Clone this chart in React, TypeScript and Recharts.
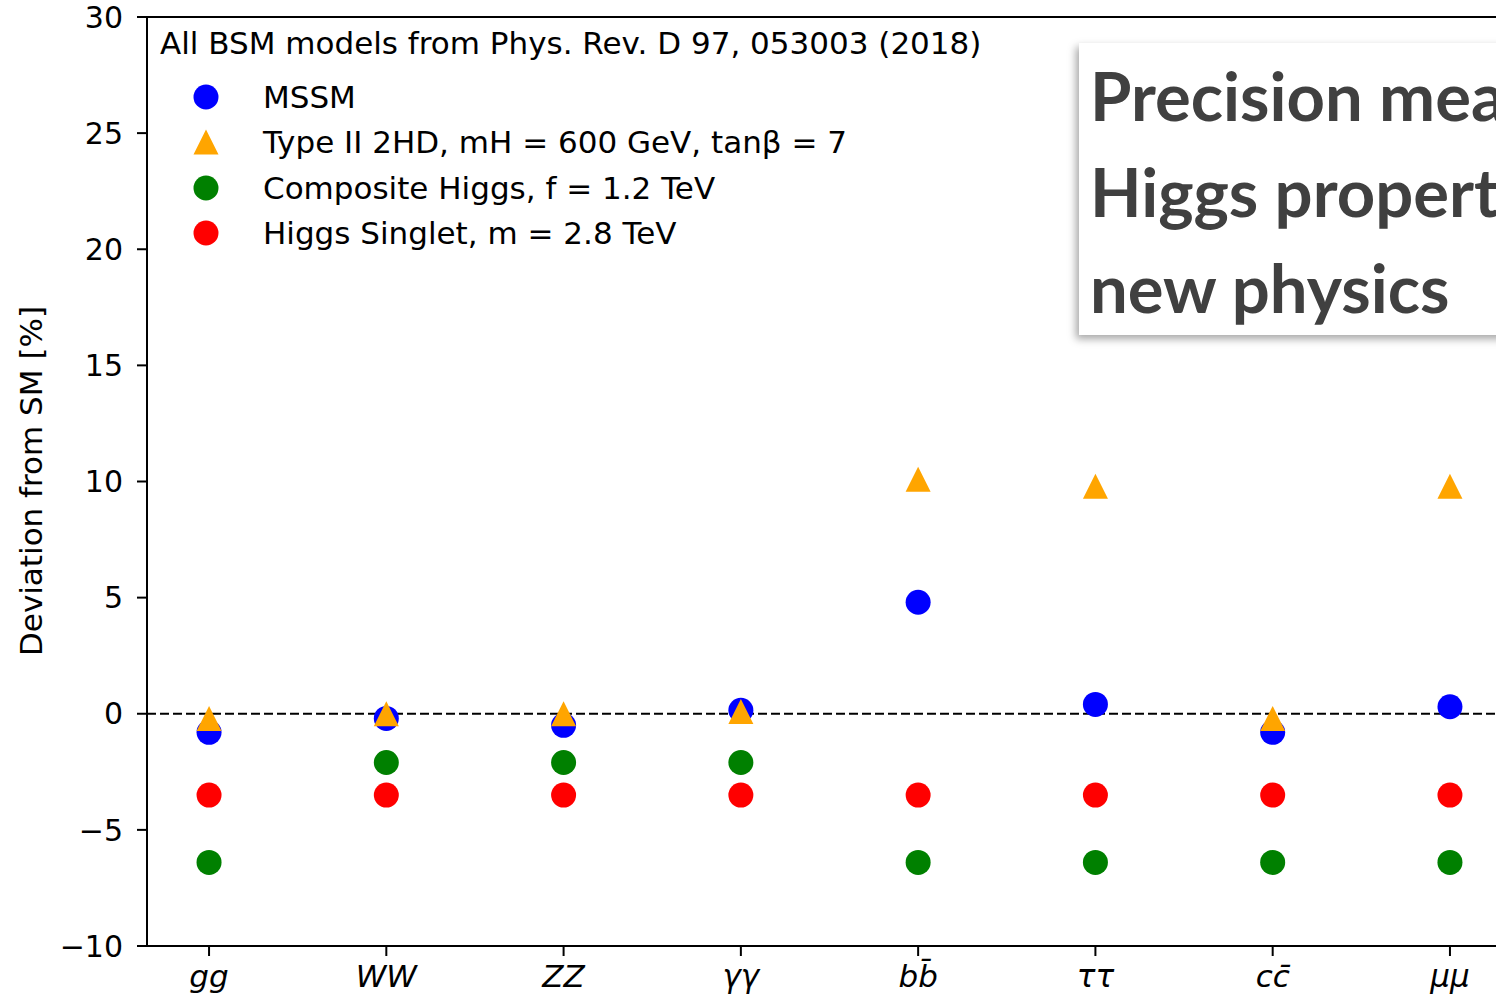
import React from "react";
import {
  ScatterChart, Scatter, XAxis, YAxis, ReferenceLine,
} from "recharts";

// ─── Data ──────────────────────────────────────────────────
const CHANNELS = ["gg", "WW", "ZZ", "γγ", "bb\u0304", "ττ", "cc\u0304", "μμ"];
const Y_TICKS = [-10, -5, 0, 5, 10, 15, 20, 25, 30];

const MSSM = [-0.8, -0.2, -0.5, 0.15, 4.8, 0.4, -0.8, 0.3];
const TYPE2_2HD = [-0.2, 0.0, 0.0, 0.1, 10.1, 9.8, -0.2, 9.8];
const COMPOSITE = [-6.4, -2.1, -2.1, -2.1, -6.4, -6.4, -6.4, -6.4];
const SINGLET = [-3.5, -3.5, -3.5, -3.5, -3.5, -3.5, -3.5, -3.5];

const LEGEND_TITLE = "All BSM models from Phys. Rev. D 97, 053003 (2018)";
const LEGEND_ITEMS = [
  { label: "MSSM", color: "#0000ff", shape: "circle" },
  { label: "Type II 2HD, mH = 600 GeV, tanβ = 7", color: "#ffa500", shape: "triangle" },
  { label: "Composite Higgs, f = 1.2 TeV", color: "#008000", shape: "circle" },
  { label: "Higgs Singlet, m = 2.8 TeV", color: "#ff0000", shape: "circle" },
];

const OVERLAY_LINES = ["Precision mea", "Higgs propert", "new physics"];

const toPoints = (vals: number[]) => vals.map((y, i) => ({ x: i, y }));

const FONT = "'DejaVu Sans', sans-serif";
const R = 12.5;

// ─── Marker shapes ─────────────────────────────────────────
const circleShape = (color: string) => (props: any) => (
  <circle cx={props.cx} cy={props.cy} r={R} fill={color} />
);

const triangleShape = (color: string) => (props: any) => {
  const { cx, cy } = props;
  const pts = `${cx},${cy - R} ${cx - R},${cy + R} ${cx + R},${cy + R}`;
  return <polygon points={pts} fill={color} />;
};

function ChannelTick(props: any) {
  const { x, y, payload } = props;
  return (
    <text
      x={x}
      y={y}
      dy="0.71em"
      textAnchor="middle"
      fontFamily={FONT}
      fontStyle="italic"
      fontSize={31}
      fill="#000"
    >
      {CHANNELS[payload.value]}
    </text>
  );
}

function LegendMarker({ shape, color }: { shape: string; color: string }) {
  return (
    <svg width={26} height={26} style={{ display: "block" }}>
      {shape === "circle" ? (
        <circle cx={13} cy={13} r={R} fill={color} />
      ) : (
        <polygon points={`13,0.5 0.5,25.5 25.5,25.5`} fill={color} />
      )}
    </svg>
  );
}

export default function App() {
  return (
    <div
      style={{
        position: "absolute",
        left: 0,
        top: 0,
        width: 1496,
        height: 995,
        overflow: "hidden",
        background: "#fff",
        fontFamily: FONT,
      }}
    >
      <ScatterChart
        width={1530}
        height={995}
        margin={{ top: 17, right: 18, bottom: 0, left: 0 }}
      >
        <XAxis
          type="number"
          dataKey="x"
          domain={[-0.35, 7.35]}
          ticks={[0, 1, 2, 3, 4, 5, 6, 7]}
          allowDataOverflow
          height={49}
          tickSize={10}
          tickMargin={9}
          stroke="#000"
          strokeWidth={2}
          tick={<ChannelTick />}
          tickLine={{ stroke: "#000", strokeWidth: 2 }}
        />
        <YAxis
          type="number"
          dataKey="y"
          domain={[-10, 30]}
          ticks={Y_TICKS}
          width={147}
          tickSize={10}
          tickMargin={14}
          stroke="#000"
          strokeWidth={2}
          tick={{ fill: "#000", fontSize: 30, fontFamily: FONT }}
          tickLine={{ stroke: "#000", strokeWidth: 2 }}
          tickFormatter={(v: number) => (v < 0 ? `\u2212${Math.abs(v)}` : `${v}`)}
        />
        <ReferenceLine y={30} stroke="#000" strokeWidth={2} ifOverflow="extendDomain" />
        <ReferenceLine y={0} stroke="#000" strokeWidth={2} strokeDasharray="9 4" />
        <Scatter
          data={toPoints(MSSM)}
          shape={circleShape("#0000ff")}
          isAnimationActive={false}
        />
        <Scatter
          data={toPoints(TYPE2_2HD)}
          shape={triangleShape("#ffa500")}
          isAnimationActive={false}
        />
        <Scatter
          data={toPoints(COMPOSITE)}
          shape={circleShape("#008000")}
          isAnimationActive={false}
        />
        <Scatter
          data={toPoints(SINGLET)}
          shape={circleShape("#ff0000")}
          isAnimationActive={false}
        />
      </ScatterChart>

      {/* y axis title */}
      <div
        style={{
          position: "absolute",
          left: 31,
          top: 481,
          transform: "translate(-50%, -50%) rotate(-90deg)",
          fontSize: 31,
          whiteSpace: "nowrap",
          color: "#000",
        }}
      >
        Deviation from SM [%]
      </div>

      {/* legend */}
      <div
        style={{
          position: "absolute",
          left: 160,
          top: 43,
          transform: "translateY(-50%)",
          fontSize: 31,
          whiteSpace: "nowrap",
          color: "#000",
        }}
      >
        {LEGEND_TITLE}
      </div>
      {LEGEND_ITEMS.map((item, i) => (
        <React.Fragment key={item.label}>
          <div style={{ position: "absolute", left: 193, top: 97 + i * 45.3 - 13 }}>
            <LegendMarker shape={item.shape} color={item.color} />
          </div>
          <div
            style={{
              position: "absolute",
              left: 263,
              top: 97 + i * 45.3,
              transform: "translateY(-50%)",
              fontSize: 31,
              whiteSpace: "nowrap",
              color: "#000",
            }}
          >
            {item.label}
          </div>
        </React.Fragment>
      ))}

      {/* slide title box overlapping the chart */}
      <div
        style={{
          position: "absolute",
          left: 1079,
          top: 43,
          width: 460,
          height: 292,
          background: "#fff",
          boxShadow: "-3px 4px 8px rgba(0,0,0,0.35)",
          fontFamily: "Lato, sans-serif",
          fontWeight: 700,
          fontSize: 67,
          color: "#404040",
          whiteSpace: "nowrap",
        }}
      >
        {OVERLAY_LINES.map((t, i) => (
          <div
            key={t}
            style={{
              position: "absolute",
              left: 11,
              top: 52 + i * 96,
              lineHeight: 1,
              transform: "translateY(-50%)",
            }}
          >
            {t}
          </div>
        ))}
      </div>
    </div>
  );
}
